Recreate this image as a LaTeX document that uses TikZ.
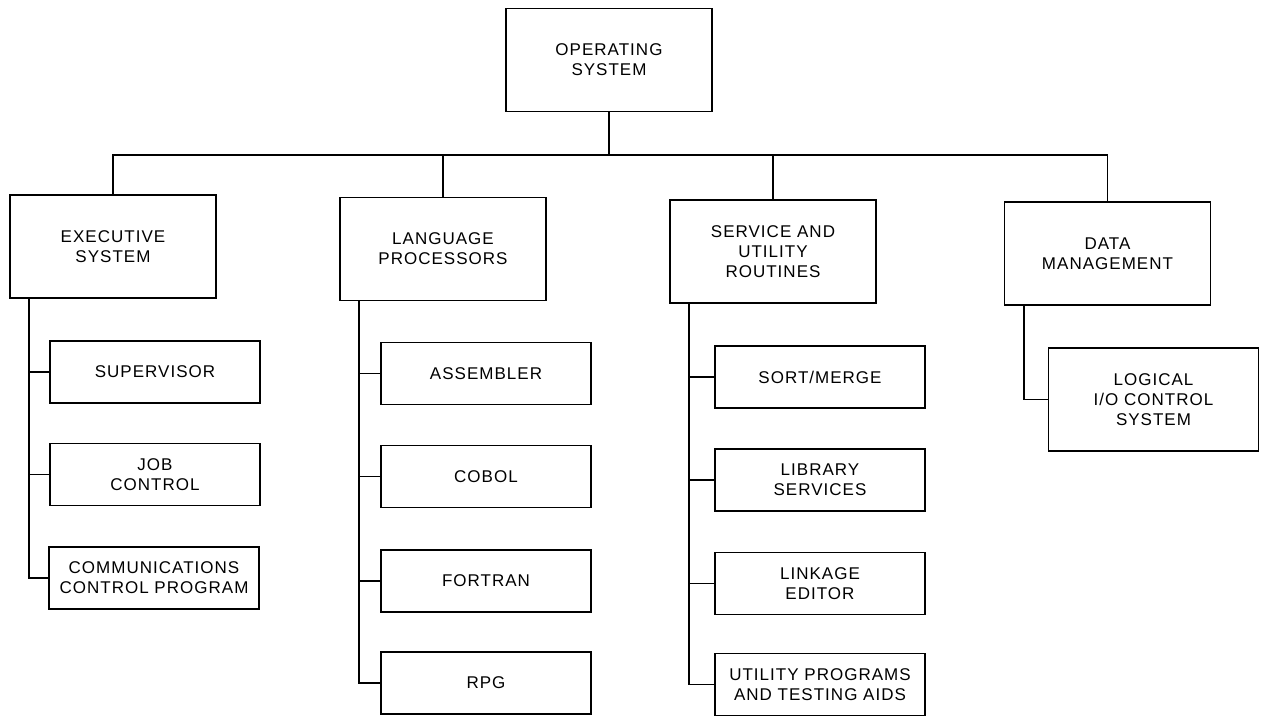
\documentclass[tikz,border=0pt]{standalone}
\usepackage{fontspec}
\setmainfont{Liberation Sans}[LetterSpace=6]
\usetikzlibrary{positioning,calc}

\begin{document}
\begin{tikzpicture}[x=1pt, y=-1pt, line width=1.7pt,
		box/.style={draw, align=center, inner sep=0pt, font=\fontsize{17}{20}\selectfont},
		topbox/.style={box, minimum width=206pt, minimum height=103pt},
		subbox/.style={box, minimum width=210pt, minimum height=62pt}]
				\useasboundingbox (0,0) rectangle (1262,717);
				% top level
				\node [topbox] (os) at (609,60) {OPERATING\\SYSTEM};
				\node [topbox] (exec) at (113,246.5) {EXECUTIVE\\SYSTEM};
				\node [topbox] (lang) at (443,249) {LANGUAGE\\PROCESSORS};
				\node [topbox] (serv) at (773,251.5) {SERVICE AND\\UTILITY\\ROUTINES};
				\node [topbox] (data) at (1107.5,253.5) {DATA\\MANAGEMENT};
				% executive system
				\node [subbox] (sup) at (155,372) {SUPERVISOR};
				\node [subbox] (job) at (155,474.5) {JOB\\CONTROL};
				\node [subbox] (comm) at (154,578) {COMMUNICATIONS\\CONTROL PROGRAM};
				% language processors
				\node [subbox] (asm) at (486,373.5) {ASSEMBLER};
				\node [subbox] (cobol) at (486,476.5) {COBOL};
				\node [subbox] (fortran) at (486,581) {FORTRAN};
				\node [subbox] (rpg) at (486,683) {RPG};
				% service and utility routines
				\node [subbox] (sort) at (820,377) {SORT/MERGE};
				\node [subbox] (lib) at (820,480) {LIBRARY\\SERVICES};
				\node [subbox] (link) at (820,583.5) {LINKAGE\\EDITOR};
				\node [subbox] (util) at (820,684.5) {UTILITY PROGRAMS\\AND TESTING AIDS};
				% data management
				\node [subbox, minimum height=103pt] (logic) at (1153.5,399.5) {LOGICAL\\I/O CONTROL\\SYSTEM};
				% bus
				\coordinate (bus) at (609,155);
				\draw (os.south) -- (bus);
				\draw (exec.north) |- (bus) -| (data.north);
				\draw (lang.north) -- (lang.north |- bus);
				\draw (serv.north) -- (serv.north |- bus);
				% trunks
				\coordinate (exectrunk) at ([xshift=20pt]exec.south west);
				\coordinate (langtrunk) at ([xshift=20pt]lang.south west);
				\coordinate (servtrunk) at ([xshift=20pt]serv.south west);
				\coordinate (datatrunk) at ([xshift=20pt]data.south west);
				\draw (exectrunk) |- (comm.west);
				\draw (langtrunk) |- (rpg.west);
				\draw (servtrunk) |- (util.west);
				\draw (datatrunk) |- (logic.west);
				\foreach \kid in {sup, job} \draw (\kid.west) -- (\kid.west -| exectrunk);
				\foreach \kid in {asm, cobol, fortran} \draw (\kid.west) -- (\kid.west -| langtrunk);
				\foreach \kid in {sort, lib, link} \draw (\kid.west) -- (\kid.west -| servtrunk);
			\end{tikzpicture}
\end{document}
